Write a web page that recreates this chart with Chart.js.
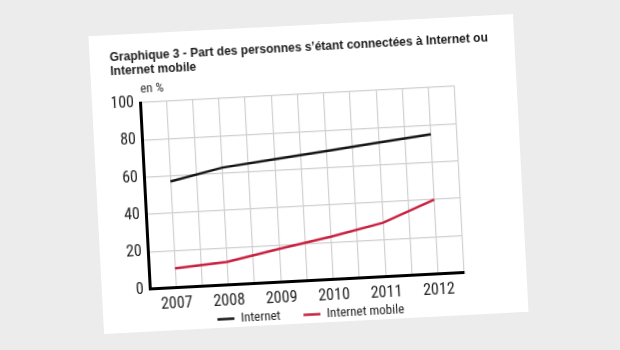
<!DOCTYPE html>
<html>
<head>
<meta charset="utf-8">
<script src="https://cdn.jsdelivr.net/npm/chart.js@4"></script>
<style>
  body { margin: 0; width: 620px; height: 350px; background: #ececec; overflow: hidden; }
  #card {
    position: absolute;
    left: 96px; top: 25px;
    width: 425px; height: 298px;
    background: #fff;
    transform: rotate(-3deg);
  }
  #wrap { position: absolute; left: 0; top: 0; width: 425px; height: 298px; }
</style>
</head>
<body>
<div id="card"><div id="wrap"><canvas id="chart"></canvas></div></div>
<script>
// values (en %)
const years = [2007, 2008, 2009, 2010, 2011, 2012];
const internet = [57, 63, 66, 69, 72, 75];
const internetMobile = [10.5, 12.5, 18, 23, 29, 40];
const yTickLabels = [0, 20, 40, 60, 80, 100];

const narrow = "'Liberation Sans Narrow', 'Roboto Condensed', Roboto, sans-serif";

// little "en %" over the y axis
const unitLabel = {
  id: 'unitLabel',
  afterDraw(chart) {
    const { ctx, chartArea } = chart;
    ctx.save();
    ctx.font = '13px ' + narrow;
    ctx.fillStyle = '#333';
    ctx.textAlign = 'left';
    ctx.textBaseline = 'middle';
    ctx.fillText('en %', chartArea.left + 1, chartArea.top - 13);
    ctx.restore();
  },
};

// legend sits tight under the year labels
const legendNudge = {
  id: 'legendNudge',
  afterLayout(chart) {
    const lg = chart.legend;
    lg.top -= 29; lg.bottom -= 29;
    lg.left -= 10; lg.right -= 10;
  },
};

const data = {
  datasets: [
    {
      label: 'Internet',
      data: years.map((y, i) => ({ x: y, y: internet[i] })),
      borderColor: '#151515',
      backgroundColor: '#151515',
      borderWidth: 2.5,
      pointRadius: 0,
    },
    {
      label: 'Internet mobile',
      data: years.map((y, i) => ({ x: y, y: internetMobile[i] })),
      borderColor: '#c8203f',
      backgroundColor: '#c8203f',
      borderWidth: 2.5,
      pointRadius: 0,
    },
  ],
};

const config = {
  type: 'line',
  data,
  plugins: [unitLabel, legendNudge],
  options: {
    responsive: true,
    maintainAspectRatio: false,
    animation: false,
    layout: { padding: { left: 20, right: 10, top: 0, bottom: -37 } },
    scales: {
      x: {
        type: 'linear',
        min: 2006.5,
        max: 2012.5,
        ticks: {
          stepSize: 0.5,
          padding: 7,
          autoSkip: false,
          maxRotation: 0,
          color: '#222',
          font: { family: narrow, size: 16 },
          callback: (v) => (years.includes(v) ? String(v) : ''),
        },
        grid: { color: '#d0d0d0', lineWidth: 1.2, drawTicks: false },
        border: { color: '#000', width: 3 },
      },
      y: {
        min: 0,
        max: 100,
        afterFit: (s) => { s.width = 28; },
        ticks: {
          stepSize: 10,
          padding: 6,
          color: '#222',
          font: { family: narrow, size: 16 },
          callback: (v) => (yTickLabels.includes(v) ? String(v) : ''),
        },
        grid: { color: '#d0d0d0', lineWidth: 1.2, drawTicks: false },
        border: { color: '#000', width: 3 },
      },
      // empty right axis, only keeps white space right of the grid
      yRight: {
        position: 'right',
        afterFit: (s) => { s.width = 52; },
        ticks: { display: false },
        grid: { display: false, drawTicks: false },
        border: { display: false },
      },
    },
    plugins: {
      title: {
        display: true,
        align: 'start',
        text: ['Graphique 3 - Part des personnes s\u2019étant connectées à Internet ou', 'Internet mobile'],
        color: '#1a1a1a',
        font: { family: "'Liberation Sans', sans-serif", size: 12, weight: 'bold', lineHeight: '14px' },
        padding: { top: 16, bottom: 25 },
      },
      legend: {
        position: 'bottom',
        labels: {
          usePointStyle: true,
          pointStyle: 'line',
          pointStyleWidth: 17,
          padding: 23,
          color: '#222',
          font: { family: narrow, size: 13 },
        },
      },
      tooltip: { enabled: false },
    },
  },
};

new Chart(document.getElementById('chart'), config);
</script>
</body>
</html>
